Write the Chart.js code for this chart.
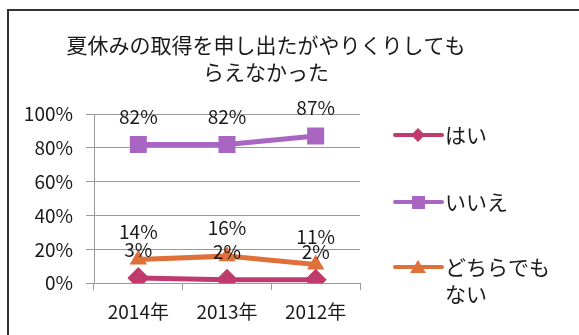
<!DOCTYPE html>
<html>
<head>
<meta charset="utf-8">
<script src="https://cdn.jsdelivr.net/npm/chart.js@4"></script>
<style>
  html, body { margin: 0; padding: 0; background: #fff; overflow: hidden; }
  #wrap { position: relative; width: 579px; height: 335px; }
  #frame {
    position: absolute; left: 7px; top: 9px; width: 700px; height: 500px;
    border: 2px solid #333; pointer-events: none;
  }
  canvas { position: absolute; left: 0; top: 0; }
</style>
</head>
<body>
<div id="wrap">
  <canvas id="chart" width="579" height="335"></canvas>
  <div id="frame"></div>
</div>
<script>
  const years = ["2014年", "2013年", "2012年"];
  const yesValues = [3, 2, 2];
  const noValues = [82, 82, 87];
  const neitherValues = [14, 16, 11];
  const yTicks = [0, 20, 40, 60, 80, 100];
  const titleLines = ["夏休みの取得を申し出たがやりくりしても", "らえなかった"];

  const FONT = "'Noto Sans CJK JP', 'Noto Sans', sans-serif";
  const textColor = "#1a1a1a";

  const series = [
    { label: "はい", legend: ["はい"], data: yesValues, color: "#c03b6c", style: "rectRot", radius: 11 },
    { label: "いいえ", legend: ["いいえ"], data: noValues, color: "#a965c2", style: "rect", radius: 12 },
    { label: "どちらでもない", legend: ["どちらでも", "ない"], data: neitherValues, color: "#e0703a", style: "triangle", radius: 10 },
  ];

  // two-line title centred over the plot + legend block
  const topTitle = {
    id: "topTitle",
    afterDraw(chart) {
      const ctx = chart.ctx;
      ctx.save();
      ctx.font = "21px " + FONT;
      ctx.fillStyle = textColor;
      ctx.textAlign = "center";
      ctx.textBaseline = "middle";
      titleLines.forEach((t, i) => ctx.fillText(t, 266, 45 + i * 27));
      ctx.restore();
    },
  };

  // value labels drawn a fixed distance above each point
  const valueLabels = {
    id: "valueLabels",
    afterDatasetsDraw(chart) {
      const ctx = chart.ctx;
      ctx.save();
      ctx.font = "19px " + FONT;
      ctx.fillStyle = textColor;
      ctx.textAlign = "center";
      ctx.textBaseline = "middle";
      chart.data.datasets.forEach((ds, i) => {
        chart.getDatasetMeta(i).data.forEach((pt, j) => {
          ctx.fillText(ds.data[j] + "%", pt.x, pt.y - 28);
        });
      });
      ctx.restore();
    },
  };

  // legend on the right: line sample with marker, text may wrap to two lines
  const sideLegend = {
    id: "sideLegend",
    afterDraw(chart) {
      const ctx = chart.ctx;
      const rows = [135, 202, 267];
      ctx.save();
      series.forEach((s, i) => {
        const y = rows[i];
        ctx.strokeStyle = s.color;
        ctx.lineWidth = 4;
        ctx.lineCap = "round";
        ctx.beginPath();
        ctx.moveTo(395, y);
        ctx.lineTo(442, y);
        ctx.stroke();
        ctx.fillStyle = s.color;
        ctx.beginPath();
        if (s.style === "rect") ctx.rect(412, y - 6, 13, 13);
        else if (s.style === "rectRot") {
          ctx.moveTo(418, y - 7); ctx.lineTo(425, y); ctx.lineTo(418, y + 7); ctx.lineTo(411, y);
        } else {
          ctx.moveTo(418, y - 7); ctx.lineTo(426, y + 6); ctx.lineTo(410, y + 6);
        }
        ctx.closePath();
        ctx.fill();
        ctx.fillStyle = textColor;
        ctx.font = "21px " + FONT;
        ctx.textAlign = "left";
        ctx.textBaseline = "middle";
        s.legend.forEach((t, k) => ctx.fillText(t, 445, y + k * 27));
      });
      ctx.restore();
    },
  };

  new Chart(document.getElementById("chart"), {
    type: "line",
    data: {
      labels: years,
      datasets: series.map(s => ({
        label: s.label,
        data: s.data,
        borderColor: s.color,
        backgroundColor: s.color,
        borderWidth: 5,
        pointStyle: s.style,
        pointRadius: s.radius,
        pointBorderWidth: 0,
        pointBackgroundColor: s.color,
        tension: 0,
      })),
    },
    options: {
      responsive: false,
      animation: false,
      layout: { padding: { left: 0, right: 219, top: 114, bottom: 2 } },
      plugins: {
        legend: { display: false },
        tooltip: { enabled: false },
        title: { display: false },
      },
      scales: {
        x: {
          offset: true,
          grid: {
            offset: true,
            drawOnChartArea: false,
            drawTicks: true,
            tickLength: 7,
            color: "#9a9a9a",
          },
          border: { color: "#9a9a9a" },
          ticks: { color: textColor, font: { family: FONT, size: 19 }, padding: 10 },
        },
        y: {
          min: 0,
          max: 100,
          afterBuildTicks: axis => { axis.ticks = yTicks.map(v => ({ value: v })); },
          afterFit: axis => { axis.width = 94; },
          grid: { color: "#9a9a9a", tickLength: 8 },
          border: { color: "#9a9a9a" },
          ticks: {
            color: textColor,
            font: { family: FONT, size: 19 },
            padding: 13,
            callback: v => v + "%",
          },
        },
      },
    },
    plugins: [valueLabels, sideLegend, topTitle],
  });
</script>
</body>
</html>
